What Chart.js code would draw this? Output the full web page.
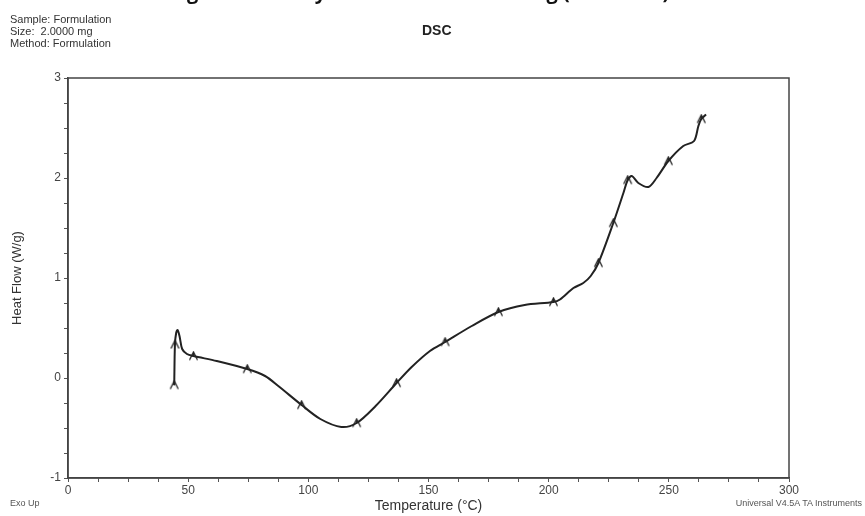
<!DOCTYPE html>
<html>
<head>
<meta charset="utf-8">
<script src="https://cdn.jsdelivr.net/npm/chart.js@4.4.1/dist/chart.umd.min.js"></script>
<style>
  body { margin: 0; background: #fff; }
  #wrap { position: relative; width: 865px; height: 516px; overflow: hidden; font-family: "Liberation Sans", Arial, sans-serif; }
  #ChartDSC { position: absolute; left: 0; top: 0; }
  .txt { position: absolute; color: #333; white-space: nowrap; }
</style>
</head>
<body>
<div id="wrap">
  <canvas id="ChartDSC" width="865" height="516"></canvas>
  <div class="txt" style="left:170px; top:-22px; font: bold 20px 'Open Sans', sans-serif; color:#111;">Fig 1: DSC Analysis of Formulation drug (3 Months)</div>
  <div class="txt" style="left:10px; top:13px; font-size:11px; line-height:12px;">Sample: Formulation<br>Size:&nbsp; 2.0000 mg<br>Method: Formulation</div>
  <div class="txt" style="left:422px; top:22px; font-weight:bold; font-size:14px; color:#222;">DSC</div>
  <div class="txt" style="left:10px; top:498px; font-size:9px; color:#555;">Exo Up</div>
  <div class="txt" style="right:3px; top:498px; font-size:9px; color:#555;">Universal V4.5A TA Instruments</div>
</div>
<script>
// DATA
const temperature = [44.2, 44.5, 45.0, 45.6, 46.4, 47.5, 49.5, 52.2, 61.9, 74.6, 82, 87.5, 97.2, 105, 113.7, 120.1, 128, 136.7, 143, 150.6, 156.9, 168, 179.1, 190, 202, 204.7, 210.3, 214.4, 217.5, 220.7, 226.9, 231.1, 232.9, 234.6, 237.3, 241.5, 244.9, 249.8, 256, 260.5, 262.3, 263.5, 265.5];
const heatFlow = [-0.07, 0.335, 0.45, 0.48, 0.42, 0.29, 0.24, 0.22, 0.17, 0.09, 0.02, -0.08, -0.27, -0.41, -0.49, -0.45, -0.28, -0.05, 0.11, 0.27, 0.36, 0.52, 0.66, 0.73, 0.76, 0.785, 0.90, 0.95, 1.02, 1.15, 1.55, 1.85, 1.98, 2.02, 1.95, 1.91, 2.0, 2.17, 2.32, 2.37, 2.52, 2.59, 2.635];

// the little arrow marks TA puts along the trace
const markTemp = [44.2, 44.5, 52.2, 74.6, 97.2, 120.1, 136.7, 156.9, 179.1, 202, 220.7, 226.9, 232.9, 249.8, 263.5];
const markFlow = [-0.07, 0.335, 0.22, 0.09, -0.27, -0.45, -0.05, 0.36, 0.66, 0.76, 1.15, 1.55, 1.98, 2.17, 2.59];

const xLabels = [0, 50, 100, 150, 200, 250, 300];
const yLabels = [-1, 0, 1, 2, 3];

// arrow glyph for the marks
var arrow = document.createElement('canvas');
arrow.width = 11; arrow.height = 11;
var a = arrow.getContext('2d');
a.strokeStyle = '#222';
a.lineWidth = 1.3;
a.beginPath();
a.moveTo(1.5, 9.5); a.lineTo(5.5, 1.5); a.lineTo(9.5, 9.5);
a.moveTo(5.5, 1.5); a.lineTo(5.5, 6);
a.stroke();

const frame = {
    id: 'frame',
    afterDraw: function(chart){
        var c = chart.ctx, ar = chart.chartArea;
        c.save();
        c.strokeStyle = '#444';
        c.lineWidth = 1.5;
        c.strokeRect(ar.left, ar.top, ar.right - ar.left, ar.bottom - ar.top);
        c.restore();
    }
};

var ctx = document.getElementById('ChartDSC');

var myChart = new Chart(ctx, {
    type: 'scatter',
    data: {
        datasets: [{
            data: temperature.map(function(t, i){ return {x: t, y: heatFlow[i]}; }),
            showLine: true,
            borderColor: '#222',
            borderWidth: 2,
            pointRadius: 0,
            tension: 0.3
        }, {
            data: markTemp.map(function(t, i){ return {x: t, y: markFlow[i]}; }),
            showLine: false,
            pointStyle: arrow,
            pointRadius: 5
        }]
    },
    options: {
        responsive: false,
        animation: false,
        layout: {padding: {top: 78, right: 76, left: 0, bottom: 0}},
        plugins: {legend: {display: false}, tooltip: {enabled: false}},
        scales: {
            x: {
                type: 'linear', min: 0, max: 300,
                afterFit: function(s){ s.height = 38; },
                border: {display: true, color: '#444', width: 1.5},
                grid: {drawOnChartArea: false, tickLength: 4, color: '#555'},
                ticks: {
                    stepSize: 12.5, autoSkip: false, maxRotation: 0, padding: 1,
                    color: '#444', font: {family: 'Liberation Sans', size: 12},
                    callback: function(v){ return xLabels.indexOf(v) >= 0 ? v : ''; }
                },
                title: {display: true, text: 'Temperature (°C)', color: '#333',
                        font: {family: 'Liberation Sans', size: 14}, padding: {top: 0, bottom: 1}}
            },
            y: {
                min: -1, max: 3,
                afterFit: function(s){ s.width = 68; },
                border: {display: true, color: '#444', width: 1.5},
                grid: {drawOnChartArea: false, tickLength: 4, color: '#555'},
                ticks: {
                    stepSize: 0.25, autoSkip: false, padding: 3,
                    color: '#444', font: {family: 'Liberation Sans', size: 12},
                    callback: function(v){ return yLabels.indexOf(v) >= 0 ? v : ''; }
                },
                title: {display: true, text: 'Heat Flow (W/g)', color: '#333',
                        font: {family: 'Liberation Sans', size: 13}, padding: {top: 10, bottom: 0}}
            }
        }
    },
    plugins: [frame]
});
</script>
</body>
</html>
